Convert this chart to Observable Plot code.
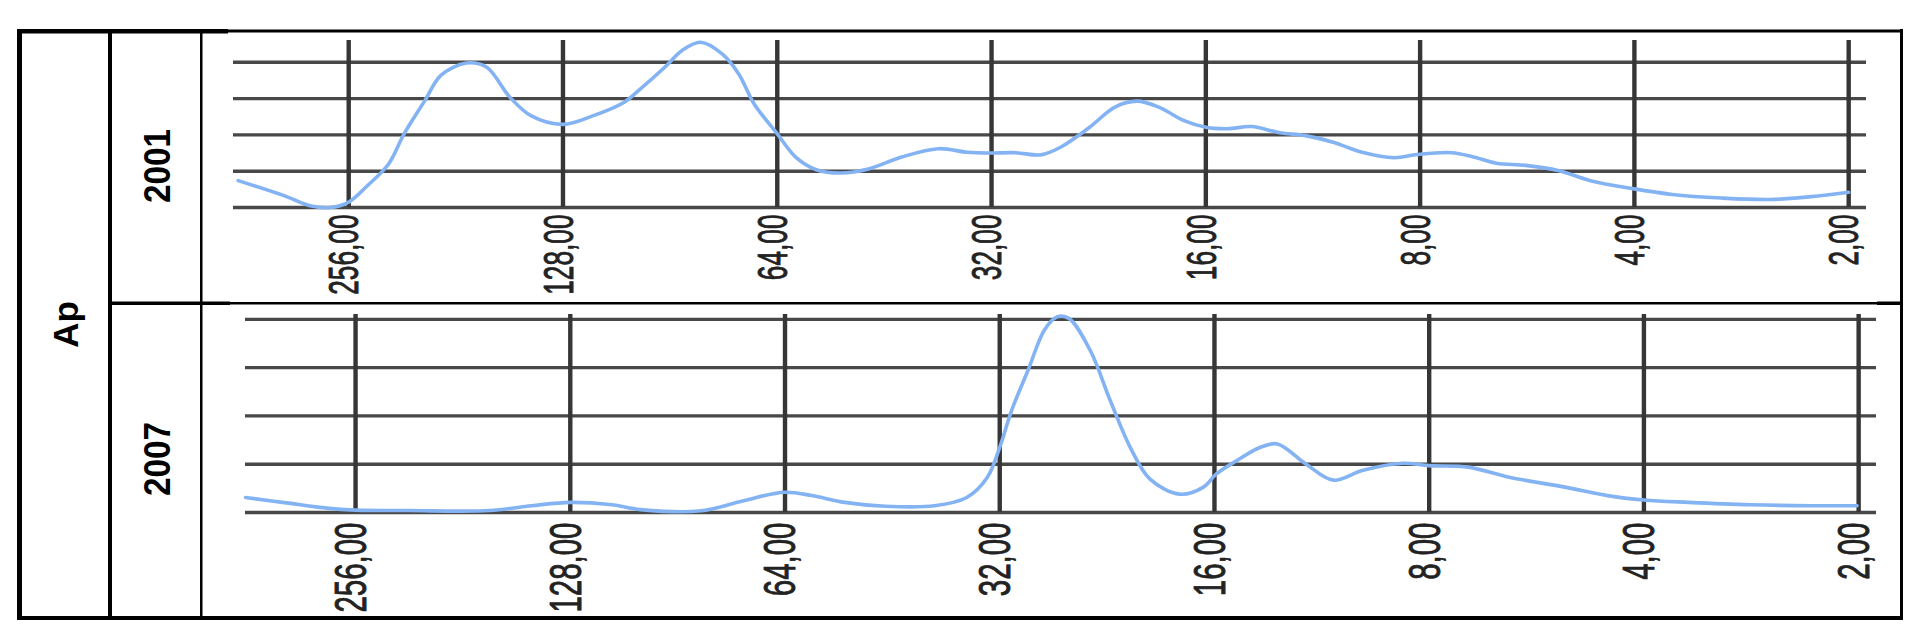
<!DOCTYPE html>
<html><head><meta charset="utf-8">
<script src="https://cdn.jsdelivr.net/npm/d3@7"></script>
<script src="https://cdn.jsdelivr.net/npm/@observablehq/plot@0.6"></script>
<style>
html,body{margin:0;padding:0;background:#fff;}
#root{position:relative;width:1921px;height:636px;overflow:hidden;background:#fff;font-family:"Liberation Sans",Arial,sans-serif;}
#root svg{position:absolute;}
</style></head>
<body><div id="root"></div>
<script>
// ---- data ----
const groupLabel = "Ap";
const years = ["2001", "2007"];
const tickPeriods = [256, 128, 64, 32, 16, 8, 4, 2];
const gridLevels = [0, 1, 2, 3, 4];

const periods2001 = [366, 313, 290, 272, 256, 241, 225, 214, 200, 190, 175, 164, 152, 142, 128, 116, 105, 100, 92, 87, 82, 76.5, 72.5, 69, 64, 60.3, 56.4, 52.1, 47.5, 42.8, 38, 34.6, 32.2, 29.6, 27.3, 25.6, 23.3, 21.5, 20, 18.6, 17.2, 16, 14.9, 13.8, 12.6, 11.6, 10.6, 9.65, 8.7, 8.07, 7.23, 6.75, 6.25, 5.69, 5.12, 4.61, 4.02, 3.54, 3.02, 2.57, 2.26, 2];
const power2001 = [0.74, 0.3, 0.05, 0.0, 0.15, 0.6, 1.2, 2.03, 2.95, 3.64, 3.98, 3.87, 3.04, 2.53, 2.29, 2.53, 2.9, 3.24, 3.87, 4.33, 4.55, 4.23, 3.68, 2.86, 2.03, 1.39, 1.04, 0.95, 1.07, 1.39, 1.62, 1.52, 1.5, 1.51, 1.45, 1.66, 2.21, 2.76, 2.93, 2.76, 2.4, 2.21, 2.17, 2.23, 2.06, 1.98, 1.8, 1.52, 1.37, 1.46, 1.51, 1.4, 1.22, 1.16, 1.02, 0.74, 0.52, 0.36, 0.26, 0.22, 0.3, 0.42];

const periods2007 = [365, 320, 281, 256, 216, 166, 145, 128, 112, 102, 83.8, 73.4, 64, 58.7, 52.8, 46.3, 39.5, 35.6, 33.3, 32, 30.8, 29.2, 27.7, 26.6, 25.6, 23.9, 22.4, 21, 19.7, 17.9, 16.6, 15.9, 14.9, 13.8, 13.06, 11.9, 10.9, 9.93, 8.71, 8, 7.05, 6.18, 5.14, 4.5, 4, 3.46, 2.84, 2.33, 2.01];
const power2007 = [0.31, 0.2, 0.09, 0.05, 0.04, 0.04, 0.14, 0.21, 0.16, 0.06, 0.035, 0.24, 0.42, 0.35, 0.21, 0.13, 0.14, 0.31, 0.73, 1.35, 2.11, 2.95, 3.78, 4.05, 4.02, 3.36, 2.32, 1.35, 0.69, 0.38, 0.52, 0.8, 1.07, 1.35, 1.42, 1.0, 0.67, 0.87, 1.02, 0.97, 0.94, 0.73, 0.52, 0.35, 0.26, 0.21, 0.16, 0.14, 0.14];

const fmt = d => d.toFixed(2).replace(".", ",");
const root = document.getElementById("root");

function panel(o) {
  const data = o.periods.map((p, i) => ({period: p, value: o.values[i]}));
  const svg = Plot.plot({
    width: o.width, height: o.height,
    marginLeft: o.mL, marginRight: o.mR, marginTop: o.mT, marginBottom: o.mB,
    style: {fontFamily: "'Liberation Sans', Arial, sans-serif", background: "transparent", overflow: "visible"},
    x: {type: "log", base: 2, domain: o.xDomain, axis: null},
    y: {domain: o.yDomain, axis: null},
    marks: [
      Plot.ruleY(gridLevels, {stroke: "#484848", strokeWidth: 3.4}),
      Plot.ruleX(tickPeriods, {stroke: "#363636", strokeWidth: 4.4}),
      Plot.line(data, {x: "period", y: "value", curve: "catmull-rom", stroke: "#84b3f3", strokeWidth: 3.6}),
      Plot.text(tickPeriods, {x: d => d, text: fmt, frameAnchor: "bottom", dy: o.labelGap, dx: -4,
        rotate: -90, textAnchor: "end", lineAnchor: "middle", fontSize: o.labelSize,
        fill: "#222", stroke: "#222", strokeWidth: 0.9})
    ]
  });
  d3.select(svg).selectAll('g[aria-label="text"] text').attr("transform", function () {
    return this.getAttribute("transform") + ` scale(${o.labelScale},1)`;
  });
  svg.style.left = o.left + "px";
  svg.style.top = o.top + "px";
  root.appendChild(svg);
}

panel({periods: periods2001, values: power2001, xDomain: [371.6, 1.888], yDomain: [0, 4.6],
  left: 204, top: 34, width: 1694, height: 268, mL: 29, mR: 32, mT: 6, mB: 95,
  labelGap: 7, labelSize: 43, labelScale: 0.61});
panel({periods: periods2007, values: power2007, xDomain: [365.2, 1.888], yDomain: [0, 4.1],
  left: 204, top: 305, width: 1694, height: 311, mL: 41, mR: 22, mT: 9, mB: 104,
  labelGap: 10, labelSize: 45, labelScale: 0.655});

// ---- table frame and row labels ----
const frame = d3.select(root).append("svg").attr("width", 1921).attr("height", 636)
  .style("left", "0px").style("top", "0px");
function bar(x, y, w, h) { frame.append("rect").attr("x", x).attr("y", y).attr("width", w).attr("height", h).attr("fill", "#000"); }
bar(17, 29.5, 1886, 3);      // top
bar(17, 29, 211, 4.5);       // top, thick part
bar(17, 29, 5, 591);         // left
bar(1900, 29, 3, 591);       // right
bar(17, 616, 1886, 4);       // bottom
bar(108, 29, 4, 591);        // column divider 1
bar(200, 29, 2.5, 591);      // column divider 2
bar(108, 302, 1795, 2.5);    // row divider
bar(108, 301.5, 122, 3.5);
bar(1877, 301.5, 26, 3.5);

function vlabel(t, x, y, size, sx) {
  frame.append("text").attr("transform", `translate(${x},${y}) rotate(-90) scale(${sx},1)`)
    .attr("text-anchor", "middle").attr("dominant-baseline", "central")
    .attr("font-family", "'Liberation Sans', Arial, sans-serif").attr("font-weight", "bold")
    .attr("font-size", size).attr("fill", "#000").text(t);
}
vlabel(groupLabel, 65, 324.5, 35, 1);
vlabel(years[0], 157, 166, 37, 0.9);
vlabel(years[1], 157, 459, 37, 0.9);
</script>
</body></html>
